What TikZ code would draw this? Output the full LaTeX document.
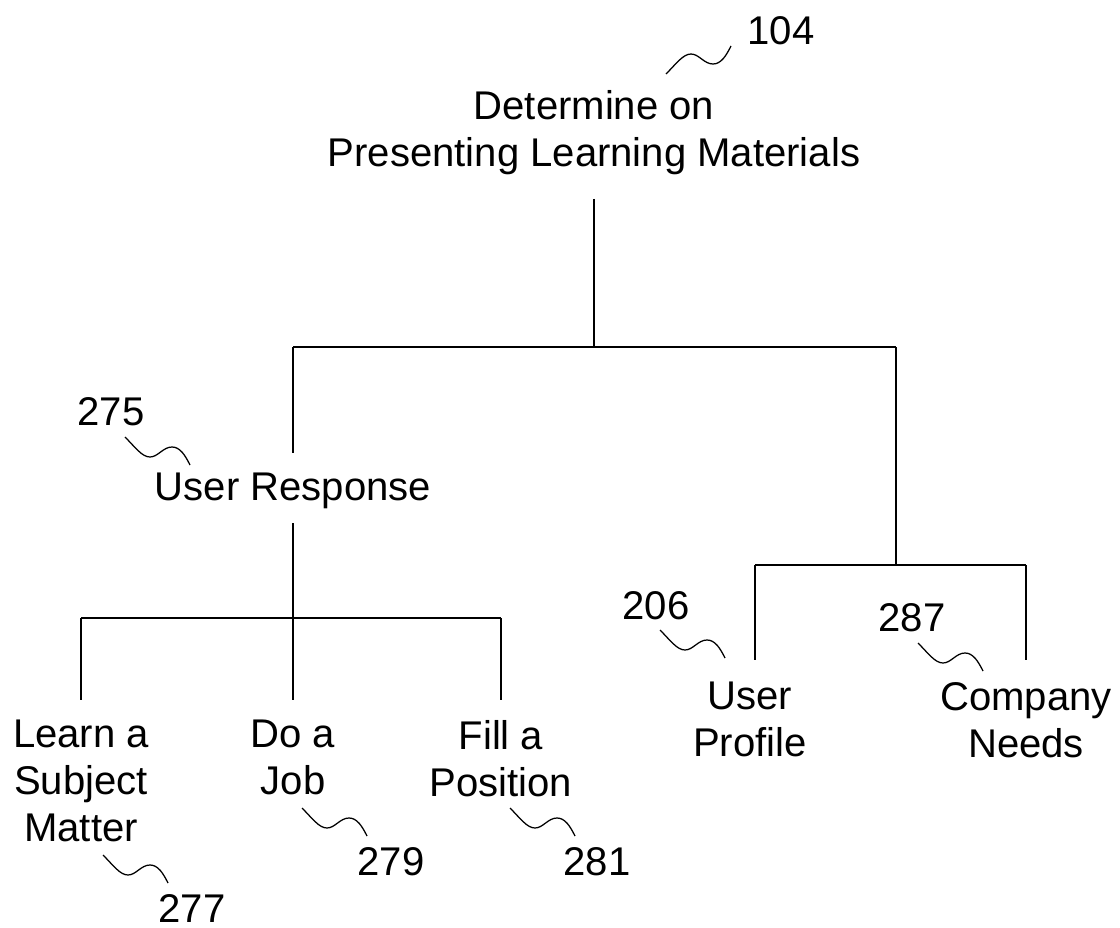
\documentclass[tikz,border=0pt]{standalone}
\usepackage{fontspec}
\setmainfont{Liberation Sans}
\tikzset{
  squig/.pic={\draw[line width=0.9pt] (0,0) .. controls (10,10) and (17,20) .. (25,20) .. controls (33,20) and (38,10) .. (47,10) .. controls (55,10) and (60,18) .. (65,28);},
  txt/.style={font=\fontsize{28.5}{33.4}\selectfont, inner sep=0pt, align=center},
  branch/.style={line width=1pt},
}
\begin{document}
\begin{tikzpicture}[x=0.025cm,y=-0.025cm]
\useasboundingbox (0,0) rectangle (1120,928);

% junctions
\coordinate (a) at (594,347);
\coordinate (al) at (293,347);
\coordinate (ar) at (896,347);
\coordinate (b) at (293,618);
\coordinate (bl) at (81,618);
\coordinate (br) at (501,618);
\coordinate (c) at (896,565);
\coordinate (cl) at (755,565);
\coordinate (cr) at (1026,565);

\node(det) at (594,90) [txt,anchor=north] {Determine on\\Presenting Learning Materials};
\node(resp) at (293,473) [txt,anchor=north] {User Response};
\node(learn) at (81,720) [txt,anchor=north] {Learn a\\Subject\\Matter};
\node(job) at (293,720) [txt,anchor=north] {Do a\\Job};
\node(fill) at (501,720) [txt,anchor=north] {Fill a\\Position};
\node(prof) at (750,682) [txt,anchor=north] {User\\Profile};
\node(needs) at (1026,682) [txt,anchor=north] {Company\\Needs};

\node(n104) at (781,31) [txt] {104};
\node(n275) at (111,412) [txt] {275};
\node(n206) at (656,606) [txt] {206};
\node(n287) at (912,618) [txt] {287};
\node(n277) at (192,908) [txt] {277};
\node(n279) at (391,862) [txt] {279};
\node(n281) at (597,862) [txt] {281};

\draw[branch,shorten <=0.6cm] (det) -- (a);
\draw[branch] (al) -- (ar);
\draw[branch,shorten >=0.5cm] (al) -- (al |- resp.north);
\draw[branch,shorten <=0.35cm] (al |- resp.south) -- (b);
\draw[branch] (bl) -- (br);
\draw[branch,shorten >=0.5cm] (bl) -- (bl |- learn.north);
\draw[branch,shorten >=0.5cm] (b) -- (b |- job.north);
\draw[branch,shorten >=0.5cm] (br) -- (br |- fill.north);
\draw[branch] (ar) -- (c);
\draw[branch] (cl) -- (cr);
\draw[branch,shorten >=0.55cm] (cl) -- (cl |- prof.north);
\draw[branch,shorten >=0.55cm] (cr) -- (cr |- needs.north);

\pic[yscale=-1] at (666,74) {squig};
\pic at (125,437) {squig};
\pic at (660,630) {squig};
\pic at (918,643) {squig};
\pic at (103,855) {squig};
\pic at (302,808) {squig};
\pic at (510,808) {squig};

\end{tikzpicture}
\end{document}
